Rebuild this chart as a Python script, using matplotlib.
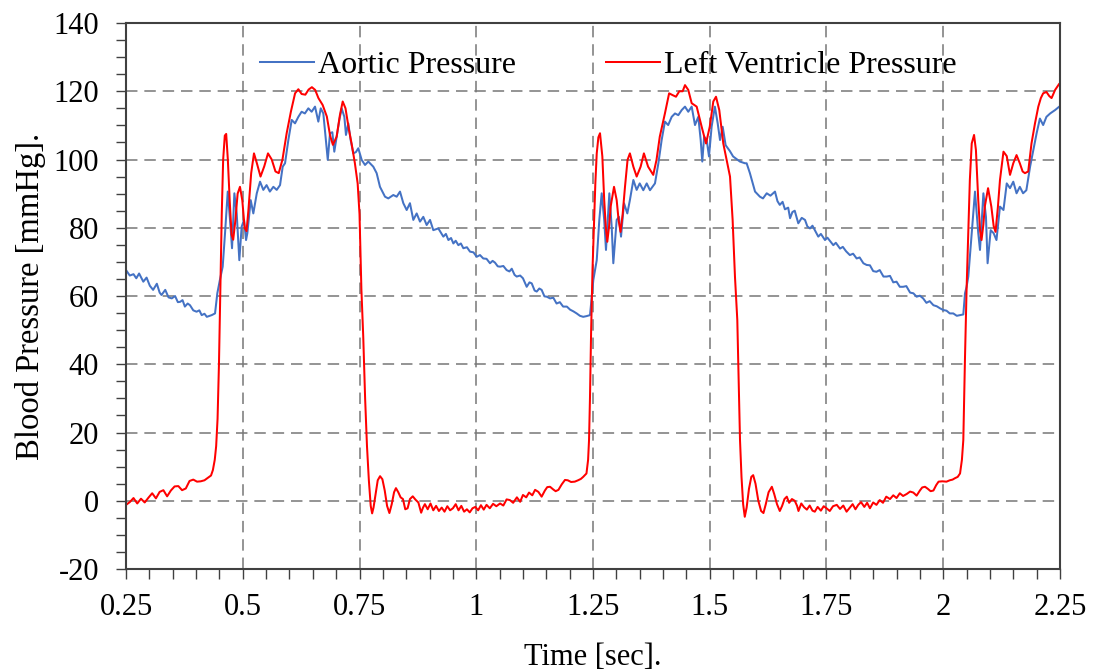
import matplotlib
matplotlib.use("Agg")
from matplotlib import pyplot as plt
from matplotlib.ticker import MultipleLocator

# aortic pressure trace, time [s] and pressure [mmHg]
aortic_t = [0.250, 0.258, 0.266, 0.272, 0.278, 0.287, 0.294, 0.301, 0.308, 0.316,
            0.322, 0.326, 0.334, 0.341, 0.348, 0.355, 0.361, 0.366, 0.371, 0.376,
            0.382, 0.387, 0.394, 0.401, 0.407, 0.412, 0.418, 0.423, 0.429, 0.4335,
            0.4406, 0.4455, 0.451, 0.457, 0.462, 0.4678, 0.4727, 0.477, 0.482, 0.487,
            0.4926, 0.4976, 0.5027, 0.507, 0.5098, 0.517, 0.5226, 0.530, 0.537, 0.544,
            0.551, 0.558, 0.5655, 0.5727, 0.5798, 0.5855, 0.5905, 0.5976, 0.6048, 0.6119,
            0.619, 0.626, 0.633, 0.6404, 0.6475, 0.6547, 0.6618, 0.667, 0.6725, 0.678,
            0.682, 0.6868, 0.6918, 0.696, 0.701, 0.7068, 0.7118, 0.7175, 0.721, 0.726,
            0.731, 0.7367, 0.7424, 0.7474, 0.7546, 0.7618, 0.7688, 0.7795, 0.7867, 0.7938,
            0.8046, 0.8116, 0.8224, 0.8296, 0.8367, 0.8438, 0.851, 0.858, 0.8652, 0.8724,
            0.8795, 0.8866, 0.8938, 0.901, 0.908, 0.9188, 0.9295, 0.935, 0.9403, 0.946,
            0.951, 0.956, 0.9617, 0.967, 0.9724, 0.980, 0.9866, 0.994, 1.001, 1.008,
            1.015, 1.022, 1.0294, 1.035, 1.040, 1.046, 1.051, 1.058, 1.065, 1.071,
            1.076, 1.082, 1.0866, 1.094, 1.100, 1.108, 1.114, 1.1188, 1.125, 1.1295,
            1.135, 1.140, 1.146, 1.151, 1.158, 1.165, 1.172, 1.179, 1.186, 1.194,
            1.201, 1.208, 1.215, 1.222, 1.229, 1.236, 1.2436,
            1.2507, 1.258, 1.2635, 1.2686, 1.274, 1.2778, 1.285, 1.290, 1.2935, 1.3007,
            1.3056, 1.310, 1.3164, 1.3235, 1.329, 1.3364, 1.3435, 1.350, 1.3577, 1.365,
            1.372, 1.3827, 1.390, 1.397, 1.404, 1.411, 1.4185, 1.4256, 1.4327, 1.440,
            1.447, 1.454, 1.4613, 1.4684, 1.4755, 1.4806, 1.484, 1.488, 1.4935, 1.4984,
            1.504, 1.511, 1.517, 1.522, 1.5277, 1.534, 1.543, 1.550, 1.5646, 1.5754,
            1.579, 1.586, 1.597, 1.6075, 1.614, 1.622, 1.630, 1.6397, 1.645, 1.650,
            1.656, 1.661, 1.668, 1.672, 1.677, 1.682, 1.6896, 1.697, 1.704, 1.709,
            1.7146, 1.720, 1.7324, 1.738, 1.7468, 1.752, 1.7646, 1.770, 1.779, 1.785,
            1.792, 1.800, 1.807, 1.8146, 1.821, 1.829, 1.836, 1.843, 1.850, 1.857,
            1.864, 1.872, 1.879, 1.886, 1.893, 1.900, 1.907, 1.914, 1.921, 1.929,
            1.936, 1.943, 1.950, 1.957, 1.964, 1.971, 1.979, 1.986, 1.993, 2.000,
            2.007, 2.014, 2.0215, 2.029, 2.036, 2.043,
            2.0466, 2.050, 2.0537, 2.061, 2.068, 2.075, 2.0787, 2.086, 2.0915, 2.095,
            2.1016, 2.108, 2.114, 2.1215, 2.129, 2.136, 2.143, 2.150, 2.157, 2.164,
            2.171, 2.178, 2.186, 2.193, 2.200, 2.207, 2.214, 2.221, 2.229, 2.2396,
            2.2485, 2.250]
aortic_p = [67.6, 66.0, 66.4, 65.2, 66.6, 64.2, 65.4, 63.0, 61.8, 63.6,
            61.0, 60.3, 61.8, 59.6, 59.3, 60.0, 58.2, 58.3, 58.8, 56.9,
            57.8, 57.3, 55.8, 55.4, 55.8, 54.4, 54.8, 53.9, 54.2, 54.4,
            54.9, 60.8, 64.7, 68.6, 78.4, 90.6, 82.3, 74.0, 90.1, 84.2,
            70.5, 80.3, 82.3, 76.4, 78.4, 88.1, 84.2, 90.1, 93.5, 91.1,
            92.5, 90.6, 92.0, 91.1, 92.5, 97.9, 98.9, 105.7, 111.6, 110.6,
            112.5, 114.0, 113.5, 115.0, 114.0, 115.5, 111.1, 115.0, 113.5, 105.7,
            99.9, 107.7, 108.0, 102.3, 106.7, 111.6, 115.0, 112.5, 107.2, 110.6,
            105.7, 101.8, 102.2, 103.3, 99.9, 98.4, 99.4, 97.9, 96.0, 92.0,
            89.1, 88.6, 89.6, 89.1, 90.6, 87.2, 85.2, 87.2, 82.3, 84.2,
            81.8, 83.2, 80.8, 82.3, 79.3, 79.8, 77.4, 78.2, 76.4, 77.0,
            75.4, 76.2, 74.9, 75.4, 74.0, 74.3, 73.0, 72.8, 71.5, 72.0,
            71.0, 70.9, 69.6, 70.3, 69.8, 68.7, 68.6, 68.8, 67.6, 67.2,
            68.0, 66.2, 65.7, 66.0, 65.2, 62.7, 64.0, 63.7, 61.6, 61.3,
            62.2, 61.8, 59.9, 59.8, 59.3, 59.5, 57.8, 58.2, 56.9, 56.9,
            56.0, 55.5, 54.9, 54.2, 53.9, 54.1, 54.4,
            64.7, 70.5, 82.3, 90.1, 82.3, 73.5, 90.1, 80.3, 69.6, 82.3,
            83.2, 77.4, 87.2, 84.2, 88.1, 94.0, 91.1, 93.0, 91.0, 93.0,
            91.0, 93.0, 98.9, 105.7, 111.1, 110.1, 112.5, 113.5, 113.0, 114.5,
            115.5, 114.0, 115.5, 110.1, 112.5, 105.7, 99.4, 106.7, 105.7, 100.9,
            109.6, 115.5, 110.6, 105.7, 109.6, 104.2, 102.5, 100.9, 99.4, 98.9,
            98.9, 96.0, 90.6, 89.1, 88.6, 90.1, 89.4, 90.6, 87.8, 86.7,
            87.6, 85.4, 85.9, 82.8, 84.6, 85.0, 81.3, 82.9, 82.3, 80.4,
            79.8, 80.6, 77.4, 78.2, 76.4, 77.1, 74.9, 75.6, 73.9, 74.4,
            73.1, 72.0, 72.4, 71.0, 71.3, 69.6, 69.1, 69.0, 67.3, 67.1,
            67.6, 65.7, 65.7, 65.9, 64.0, 64.2, 62.7, 62.7, 62.9, 61.0,
            60.8, 59.8, 60.1, 59.3, 58.0, 58.5, 57.3, 57.0, 56.4, 55.9,
            55.7, 54.9, 54.9, 54.2, 54.4, 54.6,
            60.8, 62.7, 65.7, 78.4, 90.6, 78.4, 73.5, 90.1, 83.2, 69.6,
            79.3, 78.4, 76.4, 86.2, 85.2, 93.0, 91.6, 93.5, 90.1, 92.0,
            90.1, 91.0, 97.9, 102.8, 107.7, 112.0, 110.1, 112.5, 113.5, 114.5,
            115.5, 115.6]

# left ventricle pressure trace, time [s] and pressure [mmHg]
lv_t = [0.250, 0.258, 0.266, 0.274, 0.282, 0.290, 0.298, 0.306, 0.314, 0.322,
        0.330, 0.338, 0.346, 0.354, 0.362, 0.370, 0.378, 0.386, 0.394, 0.402,
        0.410, 0.418, 0.426, 0.432, 0.436, 0.440, 0.443, 0.446, 0.449, 0.452,
        0.455, 0.458, 0.4615, 0.4645, 0.468, 0.472, 0.476, 0.4795, 0.484, 0.489,
        0.494, 0.499, 0.504, 0.508, 0.512, 0.518, 0.524, 0.530, 0.538, 0.546,
        0.554, 0.562, 0.570, 0.577, 0.585, 0.594, 0.603, 0.612, 0.619, 0.626,
        0.634, 0.641, 0.648, 0.655, 0.662, 0.671, 0.680, 0.687, 0.693, 0.701,
        0.708, 0.714, 0.720, 0.727, 0.733, 0.740, 0.746, 0.750, 0.754, 0.758,
        0.762, 0.766, 0.770, 0.774, 0.777, 0.780, 0.784, 0.789, 0.794, 0.799,
        0.804, 0.809, 0.814, 0.819, 0.824, 0.828, 0.833, 0.838, 0.843, 0.848,
        0.853, 0.858, 0.864, 0.870, 0.876, 0.882, 0.886, 0.890, 0.896, 0.902,
        0.908, 0.914, 0.920, 0.926, 0.932, 0.938, 0.944, 0.950, 0.956, 0.962,
        0.968, 0.974, 0.980, 0.986, 0.992, 0.998, 1.004, 1.010, 1.016, 1.022,
        1.029, 1.036, 1.043, 1.051, 1.058, 1.065, 1.072, 1.079, 1.087, 1.094,
        1.100, 1.107, 1.113, 1.120, 1.126, 1.133, 1.140, 1.147, 1.152, 1.158,
        1.165, 1.170, 1.176, 1.183, 1.190, 1.196, 1.203, 1.211, 1.218, 1.224,
        1.229, 1.236, 1.2395, 1.2415, 1.2435, 1.246, 1.249, 1.252, 1.255, 1.258,
        1.2615, 1.265, 1.270, 1.274, 1.2775, 1.2806, 1.2845, 1.2878, 1.295, 1.3007,
        1.305, 1.309, 1.3135, 1.3185, 1.324, 1.329, 1.3364, 1.3435, 1.352, 1.359,
        1.368, 1.379, 1.386, 1.393, 1.404, 1.413, 1.420, 1.4277, 1.4348, 1.442,
        1.447, 1.454, 1.4613, 1.472, 1.4827, 1.492, 1.500, 1.5076, 1.5134, 1.5204,
        1.529, 1.5376, 1.5434, 1.549, 1.554, 1.559, 1.562, 1.5648, 1.568, 1.5715,
        1.575, 1.579, 1.584, 1.589, 1.593, 1.598, 1.604, 1.610, 1.615, 1.620,
        1.626, 1.633, 1.638, 1.644, 1.650, 1.655, 1.660, 1.665, 1.670, 1.676,
        1.682, 1.687, 1.690, 1.696, 1.702, 1.708, 1.714, 1.720, 1.725, 1.731,
        1.738, 1.744, 1.750, 1.757, 1.764, 1.772, 1.779, 1.786, 1.793, 1.800,
        1.806, 1.812, 1.818, 1.824, 1.831, 1.837, 1.843, 1.850, 1.857, 1.864,
        1.871, 1.878, 1.886, 1.893, 1.900, 1.907, 1.914, 1.922, 1.929, 1.936,
        1.943, 1.950, 1.955, 1.961, 1.967, 1.973, 1.979, 1.985, 1.990, 1.998,
        2.007, 2.014, 2.020, 2.025, 2.031, 2.036, 2.040, 2.043, 2.0466, 2.050,
        2.0537, 2.057, 2.061, 2.066, 2.070, 2.075, 2.079, 2.082, 2.086, 2.089,
        2.096, 2.103, 2.108, 2.112, 2.117, 2.1215, 2.129, 2.136, 2.143, 2.150,
        2.157, 2.164, 2.170, 2.175, 2.182, 2.189, 2.1965, 2.2036, 2.209, 2.214,
        2.221, 2.227, 2.232, 2.2396, 2.2485, 2.250]
lv_p = [-1.2, -0.4, 0.8, -0.8, 0.6, -0.5, 0.9, 2.2, 0.7, 2.6,
        3.1, 1.3, 3.0, 4.2, 4.3, 3.1, 3.6, 5.8, 6.2, 5.6,
        5.7, 6.0, 6.8, 7.4, 9.0, 12.0, 16.0, 24.0, 40.0, 62.0,
        84.0, 100.0, 107.0, 107.5, 100.0, 88.0, 78.0, 76.5, 82.0, 90.0,
        92.0, 88.0, 80.0, 79.0, 85.0, 96.0, 101.8, 99.0, 95.0, 98.0,
        101.8, 100.0, 96.5, 96.0, 100.0, 107.7, 114.0, 119.4, 120.6, 119.2,
        119.0, 120.5, 121.2, 120.4, 118.0, 116.0, 112.6, 107.0, 104.3, 106.7,
        113.0, 117.0, 115.0, 109.0, 104.7, 99.0, 93.0, 84.0, 62.0, 48.0,
        30.0, 16.0, 6.0, -1.5, -3.7, -2.0, 1.5, 6.0, 7.2, 6.3,
        3.0, -1.5, -3.6, -1.0, 2.5, 3.7, 2.5, 1.0, 0.5, -2.5,
        -2.2, 0.5, 1.3, 0.3, -0.5, -3.5, -2.0, -1.0, -2.5, -0.8,
        -2.8, -1.5, -3.0, -2.0, -3.2, -1.6, -2.8, -2.2, -1.0, -2.8,
        -1.5, -3.2, -2.5, -3.4, -2.2, -1.8, -2.8, -1.3, -2.6, -1.2,
        -2.2, -0.9, -1.6, -0.8, -1.4, 0.4, 0.2, -0.6, 1.0, -0.3,
        1.7, 1.0, 2.4, 1.6, 3.2, 2.6, 1.2, 3.0, 4.0, 4.1,
        3.3, 2.8, 3.2, 4.8, 6.1, 6.0, 5.5, 5.6, 6.0, 6.4,
        7.0, 8.0, 12.0, 17.8, 30.0, 50.0, 68.0, 80.3, 93.0, 101.8,
        106.5, 107.7, 100.9, 88.1, 80.0, 75.9, 80.5, 86.2, 92.0, 88.1,
        82.0, 78.8, 84.0, 92.0, 99.9, 101.8, 97.9, 95.0, 97.9, 101.8,
        97.9, 95.5, 99.9, 106.7, 113.5, 119.4, 118.9, 118.4, 120.0, 120.0,
        121.8, 120.4, 116.5, 115.5, 109.6, 104.7, 109.6, 117.0, 118.4, 114.5,
        104.7, 98.9, 95.0, 82.3, 65.7, 53.0, 35.0, 17.8, 7.0, -1.0,
        -4.7, -2.0, 3.5, 7.0, 7.5, 5.0, 0.0, -3.0, -3.6, -1.0,
        2.5, 4.1, 2.0, -1.0, -3.0, -1.5, 0.5, 1.2, -0.6, 0.5,
        0.0, -1.5, -3.0, -0.8, -1.9, -2.6, -1.4, -2.9, -3.2, -1.8,
        -2.9, -1.6, -2.2, -3.0, -1.6, -1.2, -2.4, -1.4, -3.2, -2.0,
        -1.0, -2.5, -1.2, -0.4, -1.8, -0.6, -2.2, -0.5, -1.2, 0.2,
        -0.6, 1.2, 0.5, 1.6, 0.8, 2.2, 1.4, 2.0, 2.7, 2.4,
        1.5, 3.0, 3.9, 4.1, 3.5, 2.8, 3.0, 4.6, 5.6, 5.7,
        5.6, 6.0, 6.2, 6.6, 7.0, 8.0, 12.0, 17.8, 42.0, 62.0,
        78.4, 94.0, 104.7, 107.2, 102.8, 88.1, 79.0, 76.4, 81.0, 86.2,
        91.6, 86.2, 80.5, 78.8, 86.0, 94.0, 102.3, 101.0, 95.5, 98.9,
        101.3, 98.9, 96.5, 96.0, 96.5, 104.7, 110.6, 115.5, 118.0, 119.4,
        119.8, 118.6, 118.0, 120.4, 122.2, 122.3]

x_ticks = [0.25, 0.5, 0.75, 1.0, 1.25, 1.5, 1.75, 2.0, 2.25]
x_tick_labels = ["0.25", "0.5", "0.75", "1", "1.25", "1.5", "1.75", "2", "2.25"]
y_ticks = [-20, 0, 20, 40, 60, 80, 100, 120, 140]
y_tick_labels = ["-20", "0", "20", "40", "60", "80", "100", "120", "140"]

plt.rcParams["font.family"] = ["Liberation Serif", "DejaVu Serif"]
plt.rcParams["font.size"] = 22

fig = plt.figure(figsize=(10.94, 6.71), dpi=100)
ax = fig.add_axes([0.1152, 0.152, 0.8537, 0.8137])

ax.plot(aortic_t, aortic_p, color="#4472C4", lw=1.45, label="Aortic Pressure")
ax.plot(lv_t, lv_p, color="#FF0000", lw=1.45, label="Left Ventricle Pressure")

ax.set_xlim(0.25, 2.25)
ax.set_ylim(-20, 140)
ax.set_xticks(x_ticks, x_tick_labels)
ax.set_yticks(y_ticks, y_tick_labels)
ax.xaxis.set_minor_locator(MultipleLocator(0.05))
ax.yaxis.set_minor_locator(MultipleLocator(5))
ax.tick_params(which="both", direction="out", length=7.5, width=1.0,
               color="#404040", top=False, right=False)
ax.tick_params(axis="x", pad=10)
ax.tick_params(axis="y", pad=12)

ax.grid(which="major", color="#777777", lw=1.1, linestyle=(0, (7.5, 4.5)))
for sp in ax.spines.values():
    sp.set_linewidth(1.5)
    sp.set_color("#404040")

ax.set_xlabel("Time [sec].", labelpad=15)
ax.set_ylabel("Blood Pressure [mmHg].", labelpad=5, fontsize=23.5)

ax.legend(loc="center left", bbox_to_anchor=(0.1435, 0.923), ncol=2,
          frameon=False, borderpad=0, borderaxespad=0, handlelength=1.7,
          handletextpad=0.12, columnspacing=2.8, fontsize=23)

fig.savefig("out.png", dpi=100)
